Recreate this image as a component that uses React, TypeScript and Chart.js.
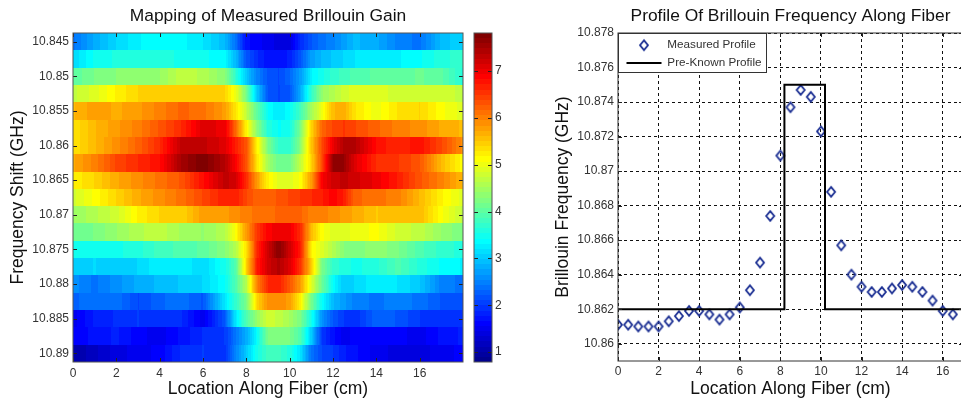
import React, { useEffect, useRef } from "react";
import { Chart, registerables } from "chart.js";

Chart.register(...registerables);

const FONT = "'Liberation Sans', Arial, sans-serif";
const TEXT = "#333333";
const FRAME = "#555555";

// ---------- heat map data ----------
const gainLocations = [0, 1, 2, 3, 4, 5, 6, 7, 7.5, 8, 8.5, 9, 9.5, 10, 10.5, 11, 11.5, 12, 12.5, 13, 14, 15, 16, 17, 18];
const gainFrequencies = [10.845, 10.8475, 10.85, 10.8525, 10.855, 10.8575, 10.86, 10.8625, 10.865, 10.8675, 10.87, 10.8725, 10.875, 10.8775, 10.88, 10.8825, 10.885, 10.8875, 10.89];
const gainRows = [
  [2.4, 2.8, 3.1, 3.3, 3.4, 3.35, 3.2, 2.9, 2.4, 1.7, 1.6, 1.5, 1.4, 1.4, 1.9, 2.2, 2.4, 2.5, 2.7, 2.9, 2.8, 2.5, 2.4, 2.9, 3.1],
  [3.1, 3.45, 3.55, 3.6, 3.6, 3.5, 3.45, 3.35, 2.9, 2.2, 1.9, 1.7, 1.7, 1.8, 2.2, 2.7, 2.9, 3.0, 3.1, 3.2, 3.3, 3.3, 3.4, 3.6, 3.7],
  [4.0, 4.2, 4.3, 4.3, 4.4, 4.7, 4.6, 4.3, 3.7, 3.0, 2.5, 2.2, 2.1, 2.3, 2.7, 3.3, 3.5, 3.7, 3.8, 3.9, 4.0, 4.0, 4.1, 4.0, 3.6],
  [4.7, 4.9, 5.2, 5.4, 5.4, 5.5, 5.5, 5.4, 5.0, 4.2, 3.0, 2.2, 2.1, 2.2, 2.8, 3.7, 4.4, 4.6, 4.8, 4.9, 4.9, 4.8, 4.8, 4.8, 4.7],
  [5.6, 5.8, 5.7, 5.8, 6.0, 6.2, 6.1, 5.8, 5.3, 4.7, 4.0, 3.4, 3.2, 3.4, 3.8, 4.5, 5.0, 5.6, 5.7, 5.3, 5.0, 5.3, 5.4, 5.1, 4.9],
  [5.3, 5.6, 5.8, 6.0, 6.3, 6.6, 7.1, 7.0, 6.2, 5.2, 4.3, 3.6, 3.4, 3.5, 4.2, 5.4, 6.2, 6.4, 6.5, 6.4, 6.2, 6.0, 5.9, 5.7, 5.6],
  [5.3, 5.6, 5.9, 6.2, 6.6, 7.3, 7.3, 7.1, 6.7, 6.3, 5.2, 4.2, 3.7, 3.7, 4.3, 5.5, 6.4, 7.0, 7.4, 7.4, 6.8, 6.6, 6.8, 6.4, 5.9],
  [5.7, 6.0, 6.4, 6.6, 6.8, 7.5, 7.8, 7.4, 6.9, 6.3, 5.3, 4.5, 4.1, 4.1, 4.7, 5.4, 6.4, 7.6, 7.6, 7.1, 6.6, 6.5, 6.3, 5.6, 5.1],
  [5.2, 5.4, 5.7, 5.9, 6.1, 6.3, 6.8, 7.3, 7.2, 6.6, 5.8, 5.2, 4.9, 4.9, 5.1, 5.8, 6.9, 7.2, 7.3, 7.2, 7.0, 6.7, 6.3, 6.0, 5.6],
  [4.8, 5.1, 5.4, 5.7, 5.9, 6.1, 6.4, 6.7, 6.7, 6.4, 6.2, 6.2, 6.3, 6.4, 6.5, 6.6, 6.7, 6.9, 6.7, 6.2, 6.1, 6.0, 5.6, 5.2, 4.9],
  [4.4, 4.6, 4.8, 5.2, 5.4, 5.4, 5.8, 5.8, 5.9, 6.0, 6.1, 6.1, 6.2, 6.2, 6.2, 6.0, 6.0, 5.9, 5.8, 5.7, 5.5, 5.6, 5.6, 5.1, 4.7],
  [4.1, 4.2, 4.4, 4.6, 4.7, 4.5, 4.4, 4.6, 5.1, 5.8, 6.5, 6.9, 7.0, 7.0, 6.6, 5.6, 5.1, 4.9, 4.9, 5.0, 5.1, 4.8, 4.7, 4.4, 4.2],
  [3.5, 3.5, 3.5, 3.6, 3.8, 3.9, 4.0, 4.3, 4.6, 5.3, 6.6, 7.2, 7.7, 7.2, 6.7, 5.2, 4.9, 4.6, 4.3, 4.2, 4.4, 4.2, 3.9, 3.7, 3.6],
  [3.0, 3.1, 3.0, 3.1, 3.3, 3.3, 3.1, 3.5, 3.9, 5.4, 6.7, 7.2, 7.4, 7.1, 6.5, 5.5, 4.2, 3.7, 3.6, 3.5, 3.6, 3.9, 3.6, 3.4, 3.3],
  [2.6, 2.4, 2.6, 2.8, 2.9, 3.0, 3.1, 3.4, 3.9, 4.6, 6.0, 6.6, 6.7, 6.3, 5.8, 4.9, 4.1, 3.4, 3.0, 3.1, 3.3, 3.2, 3.0, 2.5, 2.4],
  [2.3, 2.4, 2.4, 2.1, 2.3, 2.4, 2.2, 3.2, 3.7, 4.2, 5.4, 5.9, 5.9, 5.8, 5.2, 4.2, 3.4, 2.9, 2.7, 2.5, 2.4, 2.5, 2.4, 2.2, 2.1],
  [1.5, 1.8, 1.9, 2.0, 1.9, 1.9, 1.5, 2.2, 3.2, 3.9, 4.4, 4.8, 4.7, 4.5, 4.2, 3.5, 2.6, 2.2, 2.0, 1.9, 2.3, 2.2, 2.0, 1.9, 1.9],
  [1.6, 1.7, 1.8, 1.6, 1.5, 1.7, 1.9, 2.0, 2.4, 2.8, 3.4, 4.2, 4.3, 4.2, 3.9, 3.0, 2.0, 1.7, 1.5, 1.6, 1.6, 1.6, 1.5, 1.7, 1.8],
  [1.0, 1.2, 1.4, 1.5, 1.6, 1.9, 2.0, 1.9, 2.5, 3.0, 3.5, 3.8, 3.8, 3.6, 3.2, 2.4, 2.1, 2.0, 1.8, 1.7, 1.5, 1.4, 1.4, 1.5, 1.6],
];
const gainMin = 0.79;
const gainMax = 7.81;
const heatXTicks = [0, 2, 4, 6, 8, 10, 12, 14, 16];
const heatYTicks = [10.845, 10.85, 10.855, 10.86, 10.865, 10.87, 10.875, 10.88, 10.885, 10.89];
const barTicks = [1, 2, 3, 4, 5, 6, 7];

// ---------- profile data ----------
const measuredX = [0, 0.5, 1, 1.5, 2, 2.5, 3, 3.5, 4, 4.5, 5, 5.5, 6, 6.5, 7, 7.5, 8, 8.5, 9, 9.5, 10, 10.5, 11, 11.5, 12, 12.5, 13, 13.5, 14, 14.5, 15, 15.5, 16, 16.5];
const measuredY = [10.8611, 10.8611, 10.861, 10.861, 10.861, 10.8613, 10.8616, 10.8619, 10.8619, 10.8617, 10.8614, 10.8617, 10.8621, 10.8631, 10.8647, 10.8674, 10.8709, 10.8737, 10.8747, 10.8743, 10.8723, 10.8688, 10.8657, 10.864, 10.8633, 10.863, 10.863, 10.8632, 10.8634, 10.8633, 10.863, 10.8625, 10.8619, 10.8617];
const knownX = [0, 8.2, 8.2, 10.2, 10.2, 17];
const knownY = [10.862, 10.862, 10.875, 10.875, 10.862, 10.862];
const profileXTicks = [0, 2, 4, 6, 8, 10, 12, 14, 16];
const profileYTicks = [10.86, 10.862, 10.864, 10.866, 10.868, 10.87, 10.872, 10.874, 10.876, 10.878];

// ---------- helpers ----------
const clamp01 = (v: number) => Math.max(0, Math.min(1, v));
function jet(v: number) {
  const i = Math.max(0, Math.min(63, Math.floor(((v - gainMin) / (gainMax - gainMin)) * 64)));
  const f = (i + 1) / 64;
  const r = clamp01(Math.min(4 * f - 1.5, -4 * f + 4.5));
  const g = clamp01(Math.min(4 * f - 0.5, -4 * f + 3.5));
  const b = clamp01(Math.min(4 * f + 0.5, -4 * f + 2.5));
  return `rgb(${Math.round(r * 255)},${Math.round(g * 255)},${Math.round(b * 255)})`;
}
function gainAt(row: number[], x: number) {
  const xs = gainLocations;
  if (x <= xs[0]) return row[0];
  for (let i = 1; i < xs.length; i++) {
    if (x <= xs[i]) {
      const t = (x - xs[i - 1]) / (xs[i] - xs[i - 1]);
      return row[i - 1] + (row[i] - row[i - 1]) * t;
    }
  }
  return row[row.length - 1];
}
const fmt = (v: any) => String(parseFloat(Number(v).toFixed(4)));
const fixedTicks = (list: number[]) => (s: any) => {
  s.ticks = list.map((value) => ({ value }));
};

const heatPlugin = {
  id: "heatCells",
  beforeDatasetsDraw(chart: any) {
    const { ctx, chartArea: a, scales } = chart;
    const half = 0.00125;
    ctx.save();
    gainFrequencies.forEach((f, r) => {
      const y0 = Math.round(scales.y.getPixelForValue(f - half));
      const y1 = Math.round(scales.y.getPixelForValue(f + half));
      for (let px = Math.round(a.left); px < a.right; px++) {
        ctx.fillStyle = jet(gainAt(gainRows[r], scales.x.getValueForPixel(px + 0.5)));
        ctx.fillRect(px, y0, 1, y1 - y0);
      }
    });
    ctx.restore();
  },
};

const barPlugin = {
  id: "barCells",
  beforeDatasetsDraw(chart: any) {
    const { ctx, chartArea: a, scales } = chart;
    ctx.save();
    const span = (gainMax - gainMin) / 64;
    for (let i = 0; i < 64; i++) {
      const v = gainMin + i * span;
      const y0 = Math.round(scales.y.getPixelForValue(v + span));
      const y1 = Math.round(scales.y.getPixelForValue(v));
      ctx.fillStyle = jet(v + span / 2);
      ctx.fillRect(a.left, y0, a.right - a.left, y1 - y0);
    }
    ctx.restore();
  },
};

const framePlugin = {
  id: "frame",
  afterDatasetsDraw(chart: any, _a: any, o: any) {
    const { ctx, chartArea: a, scales } = chart;
    ctx.save();
    ctx.strokeStyle = "#222";
    ctx.lineWidth = 1;
    const L = 4;
    ctx.beginPath();
    if (o.xTicks) {
      scales.x.ticks.forEach((t: any) => {
        const x = Math.round(scales.x.getPixelForValue(t.value)) + 0.5;
        ctx.moveTo(x, a.top);
        ctx.lineTo(x, a.top + L);
        ctx.moveTo(x, a.bottom);
        ctx.lineTo(x, a.bottom - L);
      });
    }
    scales.y.ticks.forEach((t: any) => {
      const y = Math.round(scales.y.getPixelForValue(t.value)) + 0.5;
      ctx.moveTo(a.left, y);
      ctx.lineTo(a.left + L, y);
      ctx.moveTo(a.right, y);
      ctx.lineTo(a.right - L, y);
    });
    ctx.stroke();
    ctx.strokeStyle = o.color || FRAME;
    ctx.lineWidth = o.width || 1;
    ctx.strokeRect(a.left, a.top, a.right - a.left, a.bottom - a.top);
    ctx.restore();
  },
};

const legendBoxPlugin = {
  id: "legendBox",
  afterLayout(chart: any) {
    const l = chart.legend;
    l.left = 620.5;
    l.right = 767;
    l.top = 33.4;
    l.bottom = 120;
    l.width = 146.5;
    l.height = 86.6;
  },
  afterDraw(chart: any) {
    const { ctx } = chart;
    ctx.save();
    ctx.fillStyle = "#fff";
    ctx.fillRect(618.5, 33.5, 148, 39);
    ctx.strokeStyle = "#333";
    ctx.lineWidth = 1;
    ctx.strokeRect(618.5, 33.5, 148, 39);
    ctx.restore();
    chart.legend.draw();
  },
};

function makeDiamond() {
  const c = document.createElement("canvas");
  c.width = 14;
  c.height = 14;
  const g = c.getContext("2d")!;
  g.strokeStyle = "#1a2e92";
  g.lineWidth = 1.8;
  g.beginPath();
  g.moveTo(7, 2.2);
  g.lineTo(11, 7);
  g.lineTo(7, 11.8);
  g.lineTo(3, 7);
  g.closePath();
  g.stroke();
  return c;
}

const axisTitle = (text: string, top: number, bottom: number) => ({
  display: true,
  text,
  color: "#111",
  font: { family: FONT, size: 17.5, lineHeight: 1.2 },
  padding: { top, bottom },
});
const tickFont = { family: FONT, size: 12 };
const chartTitle = (text: string) => ({
  display: true,
  text,
  fullSize: false,
  color: "#111",
  font: { family: FONT, size: 17.4, lineHeight: 20 / 17.4, weight: "normal" as const },
  padding: { top: 6, bottom: 7 },
});
const noMargins = (h: number) => (s: any) => {
  s.height = h;
  s.paddingLeft = 0;
  s.paddingRight = 0;
};

export default function App() {
  const heatRef = useRef<HTMLCanvasElement>(null);
  const barRef = useRef<HTMLCanvasElement>(null);
  const profileRef = useRef<HTMLCanvasElement>(null);

  useEffect(() => {
    const heat = new Chart(heatRef.current!, {
      type: "scatter",
      data: {
        datasets: [
          {
            label: "Measured Brillouin Gain",
            data: gainFrequencies.flatMap((f, r) => gainLocations.map((x, c) => ({ x, y: f, v: gainRows[r][c] }))) as any,
            pointRadius: 0,
          },
        ],
      },
      options: {
        responsive: false,
        animation: false,
        layout: { padding: { right: 498, top: 0, bottom: 0, left: 0 } },
        plugins: {
          legend: { display: false },
          tooltip: { enabled: false },
          title: chartTitle("Mapping of Measured Brillouin Gain"),
          frame: { xTicks: true, color: FRAME },
        } as any,
        scales: {
          x: {
            type: "linear",
            min: 0,
            max: 18,
            afterBuildTicks: fixedTicks(heatXTicks),
            afterFit: noMargins(39),
            grid: { display: false, drawTicks: false },
            border: { display: false },
            ticks: { color: TEXT, font: tickFont, padding: 4, maxRotation: 0, autoSkip: false, callback: fmt },
            title: axisTitle("Location Along Fiber (cm)", 0, 1),
          },
          y: {
            type: "linear",
            reverse: true,
            min: 10.84375,
            max: 10.89125,
            afterBuildTicks: fixedTicks(heatYTicks),
            afterFit: (s: any) => {
              s.width = 73;
            },
            grid: { display: false, drawTicks: false },
            border: { display: false },
            ticks: { color: TEXT, font: tickFont, padding: 4, autoSkip: false, callback: fmt },
            title: axisTitle("Frequency Shift (GHz)", 8, 0),
          },
        },
      } as any,
      plugins: [heatPlugin, framePlugin],
    });

    const bar = new Chart(barRef.current!, {
      type: "scatter",
      data: { datasets: [{ label: "Gain scale", data: barTicks.map((y) => ({ x: 0, y })), pointRadius: 0 }] },
      options: {
        responsive: false,
        animation: false,
        layout: { padding: { left: 474, right: 449, top: 33, bottom: 39 } },
        plugins: {
          legend: { display: false },
          tooltip: { enabled: false },
          frame: { xTicks: false, color: FRAME },
        } as any,
        scales: {
          x: { type: "linear", display: false, min: 0, max: 1 },
          y: {
            type: "linear",
            position: "right",
            min: gainMin,
            max: gainMax,
            afterBuildTicks: fixedTicks(barTicks),
            afterFit: (s: any) => {
              s.width = 20;
            },
            grid: { display: false, drawTicks: false },
            border: { display: false },
            ticks: { color: TEXT, font: tickFont, padding: 3, autoSkip: false, callback: fmt },
          },
        },
      } as any,
      plugins: [barPlugin, framePlugin],
    });

    const diamond = makeDiamond();
    const profile = new Chart(profileRef.current!, {
      type: "scatter",
      data: {
        datasets: [
          {
            label: "Measured Profile",
            data: measuredX.map((x, i) => ({ x, y: measuredY[i] })),
            pointStyle: diamond as any,
            pointRadius: 6,
            order: 2,
          },
          {
            label: "Pre-Known Profile",
            data: knownX.map((x, i) => ({ x, y: knownY[i] })),
            showLine: true,
            borderColor: "#000",
            borderWidth: 2,
            pointRadius: 0,
            pointStyle: "line",
            pointBorderColor: "#000",
            pointBorderWidth: 2,
            order: 1,
          },
        ],
      },
      options: {
        responsive: false,
        animation: false,
        layout: { padding: { left: 540, right: 7, top: 0, bottom: 0 } },
        plugins: {
          tooltip: { enabled: false },
          title: chartTitle("Profile Of Brillouin Frequency Along Fiber"),
          legend: {
            display: true,
            position: "chartArea",
            align: "start",
            labels: {
              usePointStyle: true,
              pointStyleWidth: 35,
              boxHeight: 11,
              padding: 6,
              color: TEXT,
              font: { family: FONT, size: 11.7 },
              sort: (a: any, b: any) => a.datasetIndex - b.datasetIndex,
            },
          },
          frame: { xTicks: true, color: "#333" },
        } as any,
        scales: {
          x: {
            type: "linear",
            min: 0,
            max: 17,
            afterBuildTicks: fixedTicks(profileXTicks),
            afterFit: noMargins(40),
            grid: { display: true, color: "#111", lineWidth: 1, drawTicks: false },
            border: { display: false, dash: [3, 3] },
            ticks: { color: TEXT, font: tickFont, padding: 3, maxRotation: 0, autoSkip: false, callback: fmt },
            title: axisTitle("Location Along Fiber (cm)", 0, 1),
          },
          y: {
            type: "linear",
            min: 10.859,
            max: 10.878,
            afterBuildTicks: fixedTicks(profileYTicks),
            afterFit: (s: any) => {
              s.width = 78;
            },
            grid: { display: true, color: "#111", lineWidth: 1, drawTicks: false },
            border: { display: false, dash: [3, 3] },
            ticks: { color: TEXT, font: tickFont, padding: 4, autoSkip: false, callback: fmt },
            title: axisTitle("Brillouin Frequency (GHz)", 13, 0),
          },
        },
      } as any,
      plugins: [framePlugin, legendBoxPlugin],
    });

    return () => {
      heat.destroy();
      bar.destroy();
      profile.destroy();
    };
  }, []);

  const abs: React.CSSProperties = { position: "absolute", left: 0, top: 0, display: "block" };
  return (
    <div style={{ position: "fixed", left: 0, top: 0, width: 961, height: 401, overflow: "hidden", background: "#fff" }}>
      <canvas ref={heatRef} width={961} height={401} style={abs} />
      <canvas ref={barRef} width={961} height={401} style={abs} />
      <canvas ref={profileRef} width={970} height={401} style={abs} />
    </div>
  );
}
